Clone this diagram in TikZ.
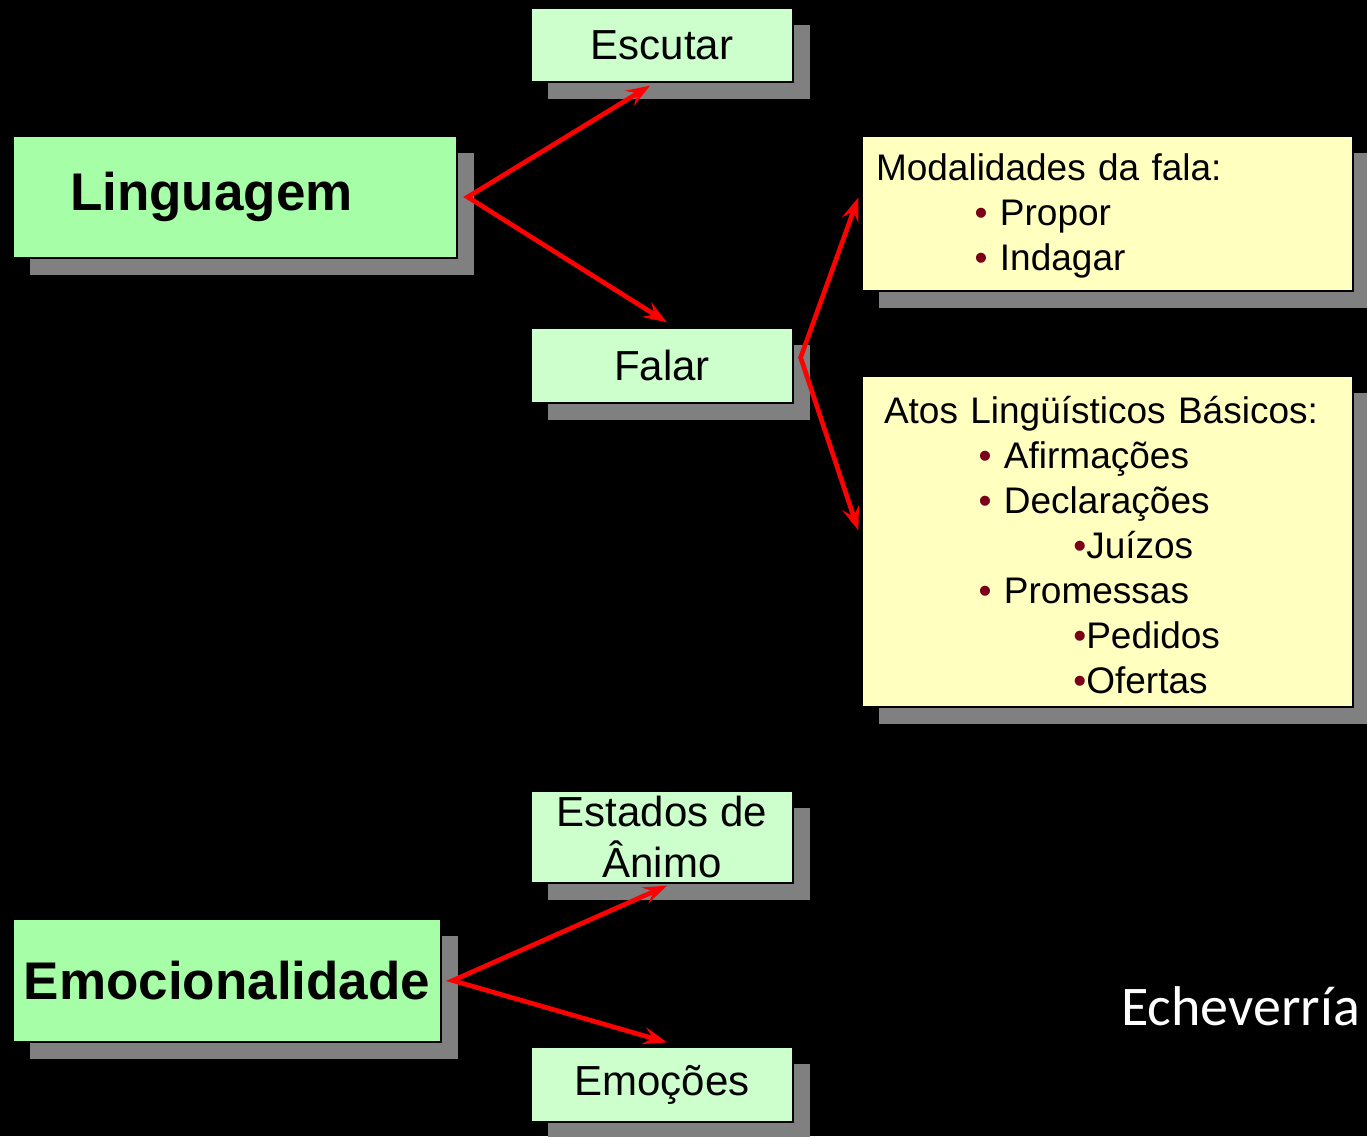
\documentclass[tikz,border=0pt]{standalone}
\usepackage{fontspec}
\setmainfont{Liberation Sans}
\newfontfamily\signfont{Carlito}
\usetikzlibrary{arrows.meta,shadows}

\definecolor{lingGreen}{HTML}{A6FFA6}
\definecolor{boxGreen}{HTML}{CCFFCC}
\definecolor{noteYellow}{HTML}{FFFFC0}
\definecolor{bulletRed}{HTML}{7A0019}

\newcommand{\bul}{{\color{bulletRed}\textbullet}}

\tikzset{
    boxshadow/.style={drop shadow={shadow xshift=13pt, shadow yshift=-13pt, fill=gray, opacity=1}},
    mainbox/.style={draw=black, line width=1pt, fill=lingGreen, boxshadow, inner sep=0pt,
        font=\fontsize{39.75}{45}\selectfont\bfseries},
    subbox/.style={draw=black, line width=1pt, fill=boxGreen, boxshadow, inner sep=0pt,
        minimum width=196.5pt, align=center, font=\fontsize{31.5}{38}\selectfont},
    notebox/.style={draw=black, line width=1pt, fill=noteYellow, boxshadow, inner ysep=0pt,
        minimum width=368.25pt, align=left, font=\fontsize{27.75}{33.75}\selectfont},
    redarrows/.style={{Stealth[length=18pt,width=13pt,inset=7pt]}-{Stealth[length=18pt,width=13pt,inset=7pt]},
        red, line width=3.5pt},
}

\begin{document}
\begin{tikzpicture}[x=0.75pt, y=-0.75pt]
    % Black page
    \fill[black] (0,0) rectangle (1367,1136);
    \useasboundingbox (0,0) rectangle (1367,1136);

    % Left boxes
    \node[mainbox, text width=247.5pt, inner xsep=42.75pt, minimum height=91.5pt, align=left]
        (linguagem) at (235,197) {Linguagem};
    \node[mainbox, minimum width=321pt, minimum height=92.25pt]
        (emocional) at (227,980.5) {Emocionalidade};

    % Middle boxes
    \node[subbox, minimum height=55.5pt] (escutar) at (662,45) {Escutar};
    \node[subbox, minimum height=56.25pt] (falar) at (662,365.5) {Falar};
    \node[subbox, minimum height=69pt] (estados) at (662,837) {Estados de\\Ânimo};
    \node[subbox, minimum height=56.25pt] (emocoes) at (662,1084.5) {Emoções};

    % Right boxes
    \node[notebox, inner xsep=10.5pt, text width=347.25pt, minimum height=116.25pt]
        (modal) at (1107.5,213.5) {\rule{0pt}{24pt}Modalidades da fala:\\
        \hspace*{74pt}\bul{} Propor\\
        \hspace*{74pt}\bul{} Indagar};
    \node[notebox, inner xsep=16.5pt, text width=335.25pt, minimum height=248.25pt]
        (atos) at (1107.5,541.5) {\rule{0pt}{26pt}Atos Lingüísticos Básicos:\\
        \hspace*{71pt}\bul{} Afirmações\\
        \hspace*{71pt}\bul{} Declarações\\
        \hspace*{142pt}\bul{}Juízos\\
        \hspace*{71pt}\bul{} Promessas\\
        \hspace*{142pt}\bul{}Pedidos\\
        \hspace*{142pt}\bul{}Ofertas};

    % Author
    \node[text=white, anchor=base west, inner sep=0pt, font=\signfont\fontsize{42}{48}\selectfont]
        (autor) at (1121,1025) {Echeverría};

    % Fork points of the arrows
    \coordinate (lingout) at ([shift={(10,0)}]linguagem.east);
    \coordinate (falout) at ([shift={(7,-8)}]falar.east);
    \coordinate (emoout) at ([shift={(11,0)}]emocional.east);

    % Red arrows
    \draw[redarrows] ([shift={(-12,3)}]escutar.south) -- (lingout) -- ([shift={(5,-5)}]falar.north);
    \draw[redarrows] ([shift={(-3,-16)}]modal.west) -- (falout) -- ([shift={(-3,-11)}]atos.west);
    \draw[redarrows] ([shift={(5,2)}]estados.south) -- (emoout) -- ([shift={(5,-4)}]emocoes.north);
\end{tikzpicture}
\end{document}
